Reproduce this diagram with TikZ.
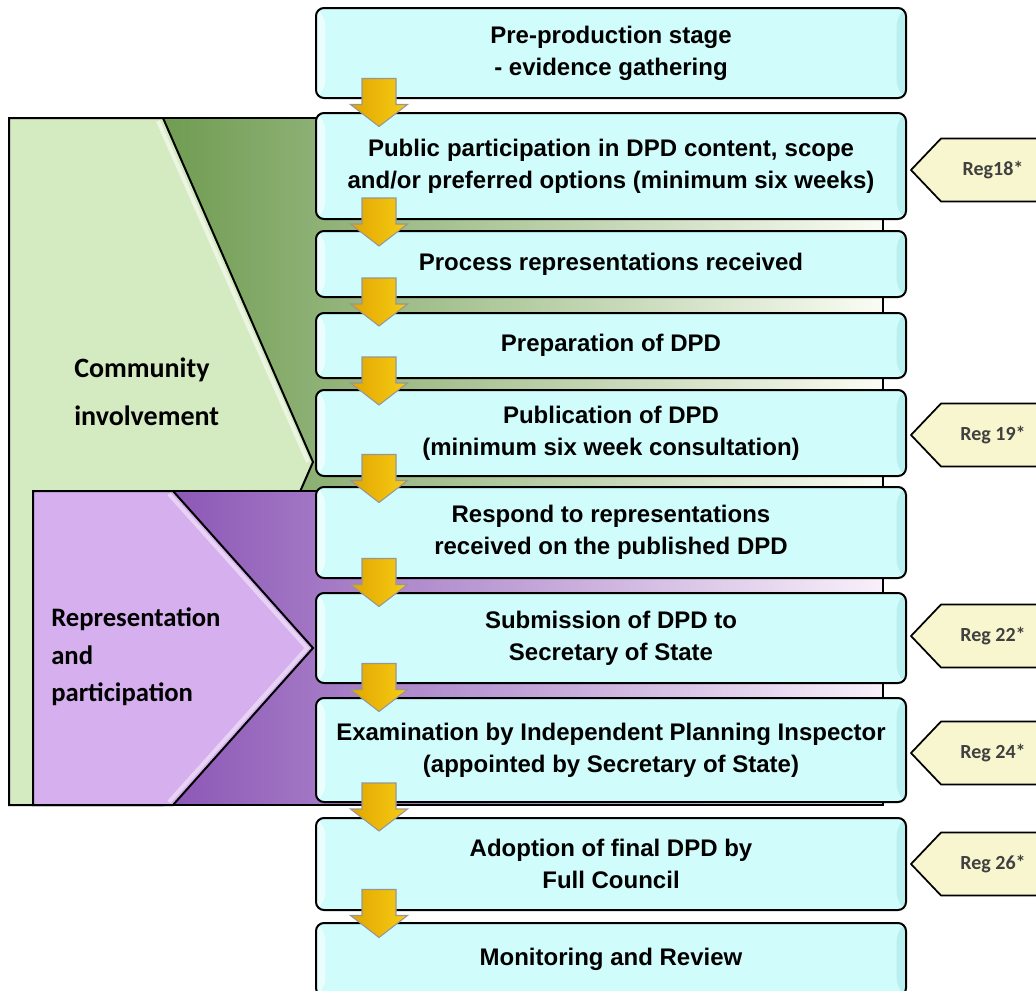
\documentclass[tikz,border=0pt]{standalone}
\usepackage{fontspec}
\setmainfont{Liberation Sans}
\newfontfamily\calib{Carlito}
\usetikzlibrary{calc}
\definecolor{boxfill}{RGB}{208,252,252}
\definecolor{greenD}{RGB}{112,156,82}
\definecolor{greenL}{RGB}{250,252,244}
\definecolor{greenC}{RGB}{212,234,192}
\definecolor{purpD}{RGB}{140,88,182}
\definecolor{purpL}{RGB}{248,240,250}
\definecolor{purpC}{RGB}{214,176,238}
\definecolor{tagfill}{RGB}{248,246,206}
\definecolor{tagtext}{RGB}{64,64,64}
\definecolor{goldL}{RGB}{226,166,0}
\definecolor{goldM}{RGB}{255,236,96}
\definecolor{goldR}{RGB}{246,204,20}
\definecolor{arrowedge}{RGB}{150,150,150}
\tikzset{
  box/.style={draw=black, line width=1.5pt, rounded corners=6pt, fill=boxfill, inner sep=0pt,
    minimum width=442.5pt,
    font=\bfseries\fontsize{18}{24}\selectfont, align=center,
    path picture={
      \fill[white,opacity=0.6] (path picture bounding box.north west) -- ([xshift=7pt,yshift=-7pt]path picture bounding box.north west) -- ([xshift=7pt,yshift=7pt]path picture bounding box.south west) -- (path picture bounding box.south west) -- cycle;
      \fill[teal,opacity=0.10] (path picture bounding box.north east) -- ([xshift=-7pt,yshift=-7pt]path picture bounding box.north east) -- ([xshift=-7pt,yshift=7pt]path picture bounding box.south east) -- (path picture bounding box.south east) -- cycle;
    }},
  panel/.style={draw=black, line width=1.5pt},
  grouplabel/.style={font=\calib\bfseries\fontsize{21}{36}\selectfont, align=left, anchor=west, inner sep=0pt},
  grouplabelb/.style={font=\calib\bfseries\fontsize{20}{28}\selectfont, align=left, anchor=west, inner sep=0pt},
  tagshape/.style={draw=black, line width=1.3pt, fill=tagfill},
  tagtextsty/.style={font=\calib\bfseries\fontsize{15}{16}\selectfont, text=tagtext, inner sep=0pt},
  arrowsty/.style={draw=arrowedge, line width=0.8pt, left color=goldL, middle color=goldM, right color=goldR},
  blockarrow/.pic={\path[arrowsty] (-17,-24) -- (17,-24) -- (17,2) -- (28.5,2) -- (0,24) -- (-28.5,2) -- (-17,2) -- cycle;}
}
\newcommand\flowarrow[2]{\coordinate (m-#1) at ($(#1.south west)!0.5!(#2.north west)+(64,-3)$); \pic at (m-#1) {blockarrow};}
\newcommand\regtag[3]{%
  \draw[tagshape] (911,#1) -- (941,#1-31.5) -- (1045,#1-31.5) -- (1045,#1+31.5) -- (941,#1+31.5) -- cycle;
  \node[tagtextsty] (#2) at (993,#1) {#3};}
\begin{document}
\begin{tikzpicture}[x=0.75pt,y=-0.75pt]
\useasboundingbox (0,0) rectangle (1036,990);
% community involvement panel
\fill[left color=greenD, right color=greenL] (163,118) rectangle (883,805);
\draw[panel] (9,118) rectangle (883,805);
\draw[panel, fill=greenC] (9,118) -- (163,118) -- (313,462) -- (163,805) -- (9,805) -- cycle;
\draw[white, opacity=0.55, line width=3pt] (158,121) -- (308,462);
\node[grouplabel] (ci) at (74,392) {Community\\involvement};
% representation panel
\fill[left color=purpD, right color=purpL] (173,491) rectangle (883,805);
\draw[panel] (33,491) rectangle (883,805);
\draw[panel, fill=purpC] (33,491) -- (173,491) -- (313,648) -- (173,805) -- (33,805) -- cycle;
\draw[white, opacity=0.45, line width=3pt] (169,494) -- (307,648) -- (169,802);
\node[grouplabelb] (rp) at (51,657) {Representation\\and\\participation};
% boxes
\node[box, minimum height=67.5pt] (b1) at (611,53) {Pre-production stage\\- evidence gathering};
\node[box, minimum height=79.5pt] (b2) at (611,166) {\makebox[364.5pt][s]{Public participation in DPD content, scope}\\and/or preferred options (minimum six weeks)};
\node[box, minimum height=49.5pt] (b3) at (611,264) {Process representations received};
\node[box, minimum height=48.75pt] (b4) at (611,345.5) {Preparation of DPD};
\node[box, minimum height=64.5pt] (b5) at (611,433) {Publication of DPD\\(minimum six week consultation)};
\node[box, minimum height=68.25pt] (b6) at (611,532.5) {Respond to representations\\received on the published DPD};
\node[box, minimum height=67.5pt] (b7) at (611,638) {Submission of DPD to\\Secretary of State};
\node[box, minimum height=78pt] (b8) at (611,750) {Examination by Independent Planning Inspector\\(appointed by Secretary of State)};
\node[box, minimum height=69pt] (b9) at (611,864) {Adoption of final DPD by\\Full Council};
\node[box, minimum height=54.75pt] (b10) at (611,959.5) {Monitoring and Review};
% arrows
\flowarrow{b1}{b2}
\flowarrow{b2}{b3}
\flowarrow{b3}{b4}
\flowarrow{b4}{b5}
\flowarrow{b5}{b6}
\flowarrow{b6}{b7}
\flowarrow{b7}{b8}
\flowarrow{b8}{b9}
\flowarrow{b9}{b10}
% regulation tags
\regtag{170}{r18}{Reg18*}
\regtag{435}{r19}{Reg 19*}
\regtag{636}{r22}{Reg 22*}
\regtag{753}{r24}{Reg 24*}
\regtag{864}{r26}{Reg 26*}
\end{tikzpicture}
\end{document}
